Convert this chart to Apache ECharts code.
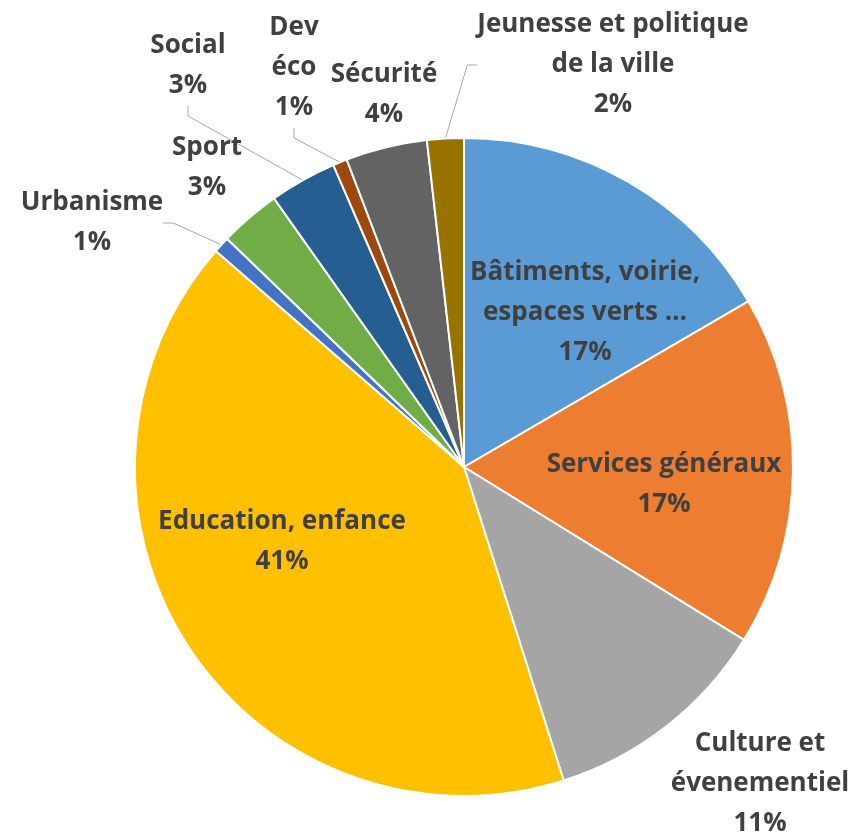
<!DOCTYPE html>
<html><head><meta charset="utf-8">
<script src="https://cdn.jsdelivr.net/npm/echarts@6/dist/echarts.min.js"></script>
<style>html,body{margin:0;padding:0;background:#fff}#c{width:856px;height:836px}</style>
</head><body><div id="c"></div>
<script>
const categories = ['Bâtiments, voirie,\nespaces verts …', 'Services généraux', 'Culture et\névenementiel', 'Education, enfance', 'Urbanisme', 'Sport', 'Social', 'Dev\néco', 'Sécurité', 'Jeunesse et politique\nde la ville'];
const shares = [16.6, 17.2, 11.3, 41.3, 0.8, 3.0, 3.3, 0.7, 4.0, 1.8];

const colors = ['#5B9BD5','#ED7D31','#A5A5A5','#FFC000','#4472C4','#70AD47','#255E91','#9E480E','#636363','#997300'];
const labelCenters = [[585,313],[664,485],[760,784],[282,542],[92,223],[207,168],[188,66],[294,68],[384,95],[613,65]];
const hasLine = [false,false,false,false,true,false,true,true,false,true];

const chart = echarts.init(document.getElementById('c'), null, {renderer:'canvas'});
const data = categories.map((n,i)=>({
  name:n, value:shares[i],
  itemStyle:{color:colors[i]},
  label:{position: hasLine[i] || i===2 || i===5 || i===8 ? 'outside':'inside'},
  labelLine:{show:hasLine[i]}
}));
chart.setOption({
  animation:false,
  series:[{
    type:'pie',
    center:[464,467],
    radius:329,
    startAngle:90,
    clockwise:true,
    avoidLabelOverlap:false,
    itemStyle:{borderColor:'#fff',borderWidth:2},
    label:{
      show:true,
      formatter:p=>p.name+'\n'+Math.round(p.percent)+'%',
      fontFamily:'Open Sans',
      fontWeight:'bold',
      fontSize:26,
      lineHeight:40,
      color:'#404040',
      align:'center'
    },
    labelLine:{lineStyle:{color:'#A6A6A6',width:1},length:10,length2:10},
    labelLayout:function(p){
      const c = labelCenters[p.dataIndex];
      return {x:c[0], y:c[1], align:'center', verticalAlign:'middle'};
    },
    data:data
  }]
});
</script></body></html>
